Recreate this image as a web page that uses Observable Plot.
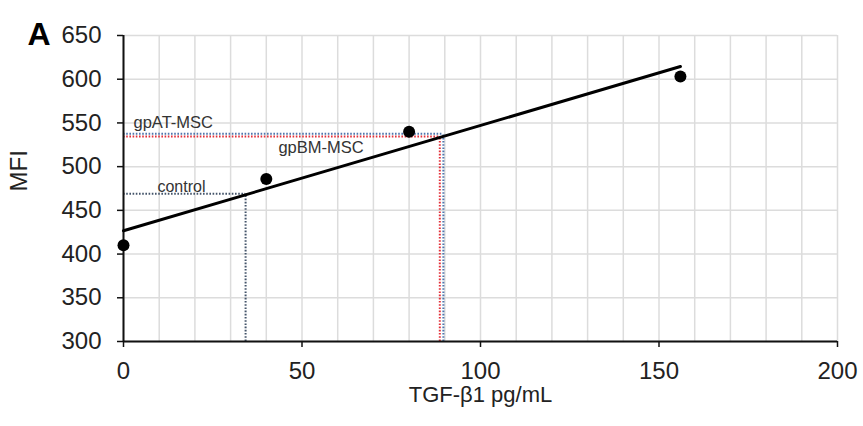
<!DOCTYPE html>
<html>
<head>
<meta charset="utf-8">
<script src="https://cdn.jsdelivr.net/npm/d3@7"></script>
<script src="https://cdn.jsdelivr.net/npm/@observablehq/plot@0.6"></script>
<style>
  html, body { margin: 0; padding: 0; background: #fff; }
  #chart svg { display: block; }
</style>
</head>
<body>
<div id="chart"></div>
<script>
// Standard curve points
const tgfStd = [0, 40, 80, 156];
const mfiStd = [410, 486, 540, 603];

// Samples
const sampleNames = ["control", "gpAT-MSC", "gpBM-MSC"];
const sampleMFI = [469, 534.5, 537.5];
const sampleTGF = [34.2, 88.6, 89.6];
const sampleColors = ["#44546a", "#e3303a", "#4f76ad"];

// Axis ticks and titles
const xTicks = [0, 50, 100, 150, 200];
const yTicks = [300, 350, 400, 450, 500, 550, 600, 650];
const xGrid = d3.range(0, 201, 10);
const xTitle = "TGF-β1 pg/mL";
const yTitle = "MFI";
const panelLabel = "A";

const std = tgfStd.map((x, i) => ({x, y: mfiStd[i]}));
const samples = sampleNames.map((name, i) => ({name, y: sampleMFI[i], x: sampleTGF[i], color: sampleColors[i]}));

const font = "Liberation Sans, Arial, sans-serif";

const chart = Plot.plot({
  width: 863,
  height: 426,
  marginLeft: 123,
  marginRight: 26,
  marginTop: 35,
  marginBottom: 85,
  style: {fontFamily: font, fontSize: "24px", color: "#222", background: "#fff"},
  x: {domain: [0, 200]},
  y: {domain: [300, 650]},
  marks: [
    Plot.gridX(xGrid, {stroke: "#dcdcdc", strokeOpacity: 1, strokeWidth: 1.5}),
    Plot.gridY(yTicks, {stroke: "#dcdcdc", strokeOpacity: 1, strokeWidth: 1.5}),
    // sample reference lines
    Plot.ruleY(samples, {y: "y", x1: 0, x2: "x", stroke: "color", strokeWidth: 2, strokeDasharray: "1.6,1.6"}),
    Plot.ruleX(samples, {x: "x", y1: 300, y2: "y", stroke: "color", strokeWidth: 2, strokeDasharray: "1.6,1.6"}),
    Plot.ruleX([0], {stroke: "#111", strokeWidth: 2}),
    Plot.ruleY([300], {stroke: "#111", strokeWidth: 2}),
    Plot.axisY(yTicks, {tickSize: 6, tickPadding: 16, fontSize: 24, label: null, stroke: "#111", strokeWidth: 1.5}),
    Plot.axisX(xTicks, {tickSize: 6, tickPadding: 14, fontSize: 24, label: null, stroke: "#111", strokeWidth: 1.5}),
    Plot.text([xTitle], {frameAnchor: "bottom", dy: 60, text: d => d, fontSize: 22, fill: "#222"}),
    Plot.text([yTitle], {frameAnchor: "left", dx: -104, dy: 3, rotate: -90, text: d => d, fontSize: 24, fill: "#222"}),
    Plot.linearRegressionY(std, {x: "x", y: "y", ci: 0, stroke: "#000", strokeWidth: 3}),
    Plot.dot(std, {x: "x", y: "y", r: 6, fill: "#000"}),
    Plot.text([sampleNames[0]], {x: 9.5, y: 477, text: d => d, textAnchor: "start", fontSize: 16, fill: "#333"}),
    Plot.text([sampleNames[1]], {x: 2.8, y: 550.5, text: d => d, textAnchor: "start", fontSize: 16.5, fill: "#333"}),
    Plot.text([sampleNames[2]], {x: 43.4, y: 522, text: d => d, textAnchor: "start", fontSize: 16.5, fill: "#333"}),
    Plot.text([panelLabel], {frameAnchor: "top-left", dx: -96, dy: -13, text: d => d, fontSize: 32, fontWeight: "bold", fill: "#000"})
  ]
});
document.getElementById("chart").appendChild(chart);
</script>
</body>
</html>
